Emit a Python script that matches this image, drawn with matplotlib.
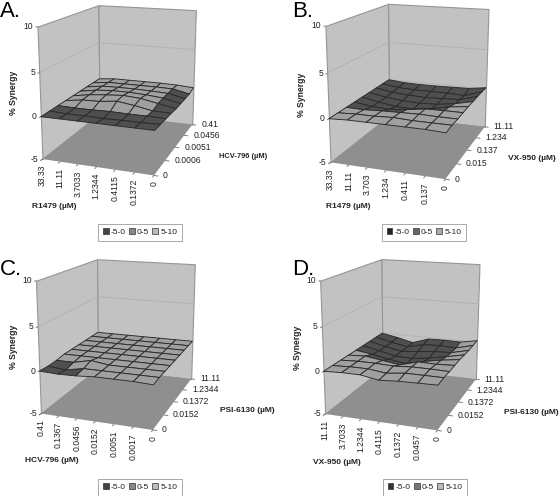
import numpy as np
import matplotlib
matplotlib.use('Agg')
import matplotlib.pyplot as plt
from matplotlib.patches import Patch
from mpl_toolkits.mplot3d import proj3d

plt.rcParams['font.family'] = ['Liberation Sans', 'DejaVu Sans']

W, H = 560, 496

legend_labels = ['-5-0', '0-5', '5-10']
z_ticks = [-5, 0, 5, 10]

x_labels_a = ['33.33', '11.11', '3.7033', '1.2344', '0.4115', '0.1372', '0']
y_labels_a = ['0', '0.0006', '0.0051', '0.0456', '0.41']
x_labels_b = ['33.33', '11.11', '3.703', '1.234', '0.411', '0.137', '0']
y_labels_b = ['0', '0.015', '0.137', '1.234', '11.11']
x_labels_c = ['0.41', '0.1367', '0.0456', '0.0152', '0.0051', '0.0017', '0']
y_labels_c = ['0', '0.0152', '0.1372', '1.2344', '11.11']
x_labels_d = ['11.11', '3.7033', '1.2344', '0.4115', '0.1372', '0.0457', '0']
y_labels_d = ['0', '0.0152', '0.1372', '1.2344', '11.11']

# % synergy, one row per x category, one column per y category
z_a = [[0, 0, 0, 0, 0, 0, 0, 0, 0],
       [0, -.1, -.05, .3, .35, .35, .3, .25, .2],
       [0, -.1, -.05, .35, .55, .5, .35, .25, .2],
       [0, -.15, 0, .6, .7, .5, .35, .25, .2],
       [0, -.1, -.05, .3, .55, .4, .3, .25, .2],
       [0, -.1, -.05, -.1, .15, .2, .2, .2, .15],
       [0, -.05, -.1, -.15, -.25, -.25, -.25, -.25, 0]]
z_b = [[0, 0, 0, 0, 0, 0, 0, 0, 0],
       [.1, .1, -.05, -.3, -.4, -.4, -.35, -.3, -.2],
       [.1, .1, .05, -.4, -.7, -.6, -.5, -.4, -.25],
       [.1, .2, .1, -.2, -.8, -.7, -.6, -.4, -.25],
       [.1, .1, .15, .1, -.5, -.6, -.5, -.4, -.2],
       [.1, .1, .1, .15, -.05, -.3, -.4, -.5, -.15],
       [0, .1, .1, .15, .2, .2, .2, .2, .15]]
z_c = [[0, -.1, -.05, .1, .1, .1, .1, .1, .1],
       [-.1, -.3, -.05, .1, .1, .1, .1, .1, .1],
       [-.05, .1, .4, .1, .1, .1, .1, .1, .1],
       [.1, .1, .1, .1, .1, .1, .1, .1, .1],
       [.1, .1, .1, .1, .1, .1, .1, .1, .1],
       [.1, .1, .1, .1, .1, .1, .1, .1, .1],
       [0, .1, .1, .1, .1, .1, .1, .1, .1]]
z_d = [[0, 0, 0, 0, 0, 0, 0, 0, 0],
       [.1, .1, .1, .1, -.3, -.45, -.5, -.5, -.4],
       [.1, .1, .1, -.2, -.7, -.9, -.9, -.9, -.9],
       [-.25, -.15, 0, -.5, -1.0, -1.0, -.7, -.4, -.2],
       [-.1, .1, .15, .1, -.5, -.7, -.5, -.3, -.15],
       [-.05, .1, .15, .05, -.1, -.3, -.4, -.4, -.2],
       [0, .1, .1, .15, .2, .15, .1, .15, .2]]

view_elev, view_azim = 15.19, -70.17
view_focal = 0.518
box_shape = (0.869, 1.138, 1)

corners = [(0, 0, 10), (0, 8, 10), (6, 8, 10), (0, 0, -5), (6, 0, -5), (6, 8, -5), (0, 8, -5)]

fig = plt.figure(figsize=(W / 100, H / 100), dpi=100)


def fit_place(ax, targets):
    # scale and shift the square axes so the box corners land on the wanted pixels
    pts = np.array(corners, float)
    u, v, _ = proj3d.proj_transform(pts[:, 0], pts[:, 1], pts[:, 2], ax.get_proj())
    frac = ax.transLimits.transform(np.c_[u, v])
    t = np.array(targets, float)
    fm, tm = frac.mean(axis=0), t.mean(axis=0)
    s = ((frac - fm) * (t - tm)).sum() / ((frac - fm) ** 2).sum()
    return s, tm - s * fm


def draw_panel(letter, z, x_labels, y_labels, x_title, y_title, targets, letter_xy, x_title_xy, y_title_xy, s_title_xy, legend_xy, swatches, cut=0.0, y_title_size=6.0):
    ax = fig.add_axes([0, 0, H / W, 1], projection='3d', computed_zorder=False)
    ax.set_xlim(0, 6, view_margin=0)
    ax.set_ylim(0, 8, view_margin=0)
    ax.set_zlim(-5, 10, view_margin=0)
    ax.view_init(elev=view_elev, azim=view_azim)
    ax.set_proj_type('persp', focal_length=view_focal)
    ax.set_box_aspect(box_shape)
    s, off = fit_place(ax, [(a, H - b) for a, b in targets])
    ax.set_position([off[0] / W, off[1] / H, s / W, s / H])
    ax.set_axis_off()
    ax.patch.set_visible(False)

    # walls and floor
    xl, yl, zl = np.array([0, 6.]), np.array([0, 8.]), np.array([-5, 10.])
    yy, zz = np.meshgrid(yl, zl)
    ax.plot_surface(np.zeros_like(yy), yy, zz, color='#c2c2c2', shade=False, edgecolor='#959595', linewidth=0.8, zorder=1)
    xx, zz = np.meshgrid(xl, zl)
    ax.plot_surface(xx, np.full_like(xx, 8), zz, color='#c2c2c2', shade=False, edgecolor='#959595', linewidth=0.8, zorder=1)
    xx, yy = np.meshgrid(xl, yl)
    ax.plot_surface(xx, yy, np.full_like(xx, -5), color='#8f8f8f', shade=False, linewidth=0, zorder=1)
    for t in z_ticks[1:-1]:
        ax.plot([0, 0, 6], [0, 8, 8], [t, t, t], color='#b0b0b0', lw=0.6, zorder=2)

    # surface
    Z = np.array(z, float)
    X, Y = np.meshgrid(np.arange(Z.shape[0]), np.arange(Z.shape[1]), indexing='ij')
    cols = np.empty(Z.shape, dtype=object)
    for i in range(Z.shape[0]):
        for j in range(Z.shape[1]):
            cell = Z[i:i + 2, j:j + 2].mean()
            cols[i, j] = '#4f4f4f' if cell < cut else '#a0a0a0'
    surf = ax.plot_surface(X, Y, Z, facecolors=cols, shade=False, rstride=1, cstride=1, zorder=5)
    surf.set_edgecolor('#2a2a2a')
    surf.set_linewidth(0.65)

    # ticks and labels
    proj = ax.get_proj()

    def put(x, y, zv, text, dx, dy, **kw):
        u, v, _ = proj3d.proj_transform(x, y, zv, proj)
        ax.annotate(text, (u, v), xytext=(dx, dy), textcoords='offset pixels', annotation_clip=False, color='#222222', fontsize=6.2, zorder=9, **kw)

    for t in z_ticks:
        ax.plot([0, 0], [0, -0.15], [t, t], color='#808080', lw=0.7, zorder=2)
        put(0, 0, t, str(t), -4, 0, ha='right', va='center')
    for i, lab in enumerate(x_labels):
        ax.plot([i, i], [0, -0.2], [-5, -5], color='#808080', lw=0.7, zorder=2)
        put(i, 0, -5, lab, 0, -6, ha='center', va='top', rotation=90)
    for j, lab in enumerate(y_labels):
        ax.plot([6, 6.2], [2 * j, 2 * j], [-5, -5], color='#808080', lw=0.7, zorder=2)
        put(6, 2 * j, -5, lab, 9, 0, ha='left', va='center')

    fig.text(letter_xy[0] / W, 1 - letter_xy[1] / H, letter + '.', fontsize=16, color='black', va='baseline')
    fig.text(x_title_xy[0] / W, 1 - x_title_xy[1] / H, x_title, fontsize=6.0, fontweight='bold', ha='center', va='center', color='#222222')
    fig.text(y_title_xy[0] / W, 1 - y_title_xy[1] / H, y_title, fontsize=y_title_size, fontweight='bold', ha='center', va='center', color='#222222')
    fig.text(s_title_xy[0] / W, 1 - s_title_xy[1] / H, '% Synergy', fontsize=6.2, fontweight='bold', rotation=90, ha='center', va='center', color='#222222')

    handles = [Patch(facecolor=c, edgecolor='#333333', linewidth=0.5) for c in swatches]
    leg = fig.legend(handles, legend_labels, ncol=3, loc='center', bbox_to_anchor=(legend_xy[0] / W, 1 - legend_xy[1] / H),
                     fontsize=6, frameon=True, fancybox=False, framealpha=1, edgecolor='#a8a8a8',
                     handlelength=0.7, handleheight=0.7, handletextpad=0.25, columnspacing=0.4, borderpad=0.55, labelcolor='#222222')
    leg.get_frame().set_linewidth(0.7)


draw_panel('A', z_a, x_labels_a, y_labels_a, 'R1479 (µM)', 'HCV-796 (µM)',
           [(37, 26), (99, 4), (194, 12), (43, 160), (154, 175), (194, 125), (99, 113)],
           (0, 17), (54, 207), (243, 157), (14, 93), (140, 232), ['#444444', '#888888', '#bbbbbb'], y_title_size=5.4)
draw_panel('B', z_b, x_labels_b, y_labels_b, 'R1479 (µM)', 'VX-950 (µM)',
           [(325, 27), (388, 4), (488, 9), (331, 163), (445, 178), (487, 127), (388, 115)],
           (292, 17), (348, 206), (532, 159), (302, 95), (424, 232), ['#222222', '#666666', '#aaaaaa'])
draw_panel('C', z_c, x_labels_c, y_labels_c, 'HCV-796 (µM)', 'PSI-6130 (µM)',
           [(36, 281), (98, 259), (194, 264), (41, 413), (151, 430), (193, 379), (98, 369)],
           (0, 275), (52, 461), (247, 411), (13, 347), (140, 487), ['#444444', '#888888', '#bbbbbb'])
draw_panel('D', z_d, x_labels_d, y_labels_d, 'VX-950 (µM)', 'PSI-6130 (µM)',
           [(320, 281), (382, 259), (479, 264), (325, 413), (437, 430), (477, 380), (382, 369)],
           (292, 275), (337, 462), (531, 413), (297, 348), (425, 487), ['#333333', '#777777', '#bbbbbb'], cut=-0.15)

fig.savefig('out.png', dpi=100)
